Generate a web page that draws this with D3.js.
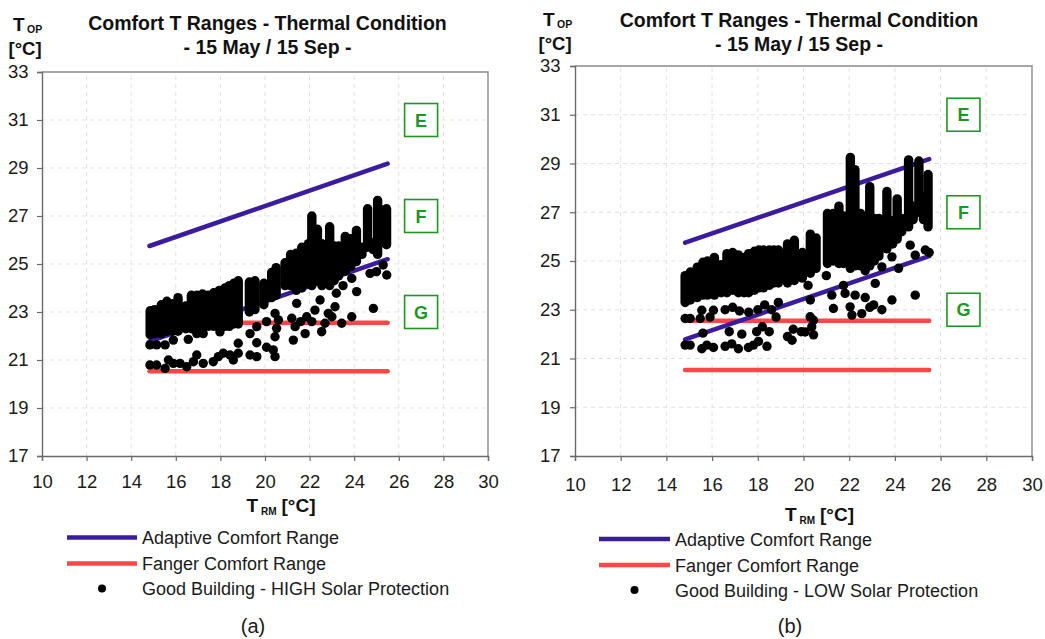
<!DOCTYPE html>
<html><head><meta charset="utf-8">
<script src="https://cdn.jsdelivr.net/npm/d3@7"></script>
<style>
html,body{margin:0;padding:0;background:#fff;}
svg{display:block;font-family:"Liberation Sans",Arial,sans-serif;}
</style></head>
<body>
<svg id="chart" width="1045" height="639"></svg>
<script>
// ---------- DATA ----------
const xTicks = [10,12,14,16,18,20,22,24,26,28,30];
const yTicks = [17,19,21,23,25,27,29,31,33];
const titleLines = ["Comfort T Ranges - Thermal Condition", "- 15 May / 15 Sep -"];
const zoneLabels = ["E","F","G"];
const zoneX = [27,27,27];
const zoneY = [31,27,23];
const adaptiveUpper = [[14.82,25.75],[25.5,29.18]];
const adaptiveLower = [[14.82,21.78],[25.5,25.2]];
const fangerUpper = [[14.82,22.55],[25.5,22.55]];
const fangerLower = [[14.82,20.53],[25.5,20.53]];
const legendLabels = ["Adaptive Comfort Range","Fanger Comfort Range"];
const seriesNameA = "Good Building - HIGH Solar Protection";
const seriesNameB = "Good Building - LOW Solar Protection";
const captions = ["(a)","(b)"];

// dense vertical runs of points: [T_RM, lowest T_OP, highest T_OP]
const colsA = [
 [14.85,22.05,23.05],[15.05,22.1,23.1],[15.35,22.1,23.3],[15.6,22.2,23.45],[15.85,22.2,23.35],
 [16.1,22.2,23.6],[16.45,22.3,23.25],[16.7,22.3,23.7],[16.95,22.3,23.7],[17.2,22.3,23.75],
 [17.45,22.4,23.7],[17.7,22.4,23.8],[17.95,22.4,23.9],[18.2,22.4,24.0],[18.4,22.4,24.1],
 [18.6,22.5,24.2],[18.8,22.5,24.3],[19.3,23.0,24.25],[19.55,23.1,24.3],[19.95,23.3,24.2],
 [20.3,23.6,24.65],[20.5,23.7,24.85],[20.9,24.1,25.05],[21.15,24.1,25.4],[21.4,23.9,25.45],
 [21.65,24.0,25.7],[21.95,24.2,25.85],[22.1,24.1,27.0],[22.35,24.3,26.45],[22.55,24.1,25.85],
 [22.9,24.1,26.55],[23.1,24.3,25.75],[23.3,24.5,25.75],[23.6,24.7,26.15],[23.85,24.9,26.05],
 [24.1,25.1,26.4],[24.35,25.4,25.7],[24.6,25.7,27.3],[24.85,25.6,25.9],[25.05,25.4,27.65],
 [25.25,25.9,27.25],[25.45,25.8,27.3]
];
const ptsA = [
 [14.84,20.79],[15.14,20.79],[15.52,20.65],[15.67,21.0],[15.89,20.86],[16.19,20.86],[16.49,20.72],
 [16.79,20.93],[16.94,21.21],[17.23,20.86],[17.68,20.93],[17.91,21.14],[18.13,21.28],[18.43,21.21],
 [18.58,21.0],[18.8,21.28],[19.33,21.21],[19.63,21.14],[20.07,21.53],[20.37,21.42],[20.45,21.14],
 [14.84,21.63],[15.14,21.63],[15.52,21.63],[15.89,21.83],[16.56,21.86],[16.94,22.1],[17.23,22.1],
 [17.98,22.17],[18.8,21.7],[19.33,22.1],[19.63,21.72],[19.63,22.39],[20.07,22.6],[20.45,22.94],
 [20.52,22.32],[20.45,21.97],[20.6,22.67],[21.2,22.74],[21.27,21.83],[21.35,22.39],[21.42,23.36],
 [21.6,22.6],[21.8,22.1],[21.87,22.8],[22.1,22.6],[22.24,23.08],[22.47,23.5],[22.54,22.18],
 [22.69,22.53],[22.84,22.94],[23.0,22.8],[23.14,23.22],[23.44,22.53],[23.89,22.8],[24.11,23.85],
 [23.89,24.4],[24.86,23.15],[24.71,24.61],[25.0,24.68],[25.3,24.96],[25.46,24.54],[23.5,24.1],[23.2,23.78]
];
const colsB = [
 [14.82,23.3,24.4],[15.05,23.4,24.55],[15.35,23.5,24.75],[15.6,23.6,24.95],[15.8,23.6,25.0],
 [16.1,23.6,25.15],[16.4,23.7,24.85],[16.65,23.7,25.3],[16.9,23.8,25.35],[17.15,23.7,25.25],
 [17.4,23.7,25.15],[17.6,23.7,25.3],[17.85,23.8,25.4],[18.05,23.9,25.45],[18.25,23.9,25.45],
 [18.5,24.0,25.45],[18.7,24.1,25.45],[18.9,24.1,25.45],[19.3,24.1,25.7],[19.6,24.2,25.85],
 [19.95,24.3,25.35],[20.3,24.5,26.1],[20.55,24.7,25.95],[21.05,24.9,26.95],[21.3,25.0,26.95],
 [21.55,24.9,27.25],[21.75,24.9,26.85],[22.05,24.7,29.25],[22.25,24.8,28.75],[22.5,24.8,26.95],
 [22.7,24.6,26.65],[22.9,24.8,28.05],[23.1,25.0,26.75],[23.3,25.2,26.75],[23.65,25.5,27.85],
 [23.9,25.7,26.65],[24.1,25.9,27.55],[24.3,26.2,26.75],[24.6,26.4,29.15],[24.8,26.7,27.25],
 [25.05,27.0,29.1],[25.25,26.7,27.65],[25.45,26.4,28.55]
];
const ptsB = [
 [14.82,22.64],[15.04,22.64],[15.48,22.64],[15.91,22.7],
 [15.55,22.98],[16.06,22.98],[16.57,23.0],[16.9,23.1],[17.2,22.95],[17.6,22.9],[18.0,23.0],
 [18.3,23.2],[18.6,23.0],[18.8,22.7],[18.9,23.3],
 [15.6,22.04],[16.75,22.1],[17.3,22.0],[17.95,22.1],[18.2,22.3],[18.5,22.1],[19.3,21.9],
 [19.55,22.2],[19.5,21.75],[19.9,22.1],
 [14.82,21.55],[15.04,21.55],[15.55,21.4],[15.77,21.55],[16.06,21.45],[16.57,21.5],[16.86,21.6],
 [17.15,21.4],[17.59,21.45],[17.81,21.55],[18.03,21.7],[18.4,21.5],
 [20.44,22.57],[20.36,22.3],[20.07,22.09],[20.44,21.97],[20.29,22.71],[21.24,23.6],[21.31,23.05],
 [21.82,23.67],[21.75,24.0],[22.04,23.12],[22.12,22.78],[22.55,22.84],[22.26,23.6],[22.7,23.5],
 [22.9,23.1],[23.07,23.2],[23.43,23.0],[23.87,23.4],[23.14,24.08],[23.43,24.76],[23.87,25.17],
 [24.16,24.7],[24.89,23.6],[24.67,25.65],[25.33,25.45],[24.89,25.24],[25.5,25.35],[20.2,24.0],
 [20.3,23.4],[21.0,24.4]
];

// ---------- STYLE ----------
const PURPLE = "#3b1c9c", RED = "#ff4646", GREEN = "#1e9622", R = 4.7;
const svg = d3.select("#chart");
svg.append("rect").attr("width",1045).attr("height",639).attr("fill","#fff");

function panel(cfg){
  const g = svg.append("g");
  const x = d3.scaleLinear().domain([10,30]).range(cfg.xr);
  const y = d3.scaleLinear().domain([17,33]).range(cfg.yr);
  // grid
  g.append("g").selectAll("line").data(xTicks.slice(1,-1)).join("line")
    .attr("x1",d=>x(d)).attr("x2",d=>x(d)).attr("y1",cfg.yr[0]).attr("y2",cfg.yr[1])
    .attr("stroke","#e2e2e2").attr("stroke-dasharray","4,4");
  g.append("g").selectAll("line").data(yTicks.slice(1,-1)).join("line")
    .attr("y1",d=>y(d)).attr("y2",d=>y(d)).attr("x1",cfg.xr[0]).attr("x2",cfg.xr[1])
    .attr("stroke","#e2e2e2").attr("stroke-dasharray","4,4");
  // frame
  g.append("path").attr("d",`M${cfg.xr[0]},${cfg.yr[1]}H${cfg.xr[1]}V${cfg.yr[0]}`)
    .attr("fill","none").attr("stroke","#8a8a8a").attr("stroke-width",1.4);
  // axes
  const ax = g.append("g").attr("transform",`translate(0,${cfg.yr[0]})`)
    .call(d3.axisBottom(x).tickValues(xTicks).tickSize(5).tickPadding(cfg.xPad).tickSizeOuter(5));
  const ay = g.append("g").attr("transform",`translate(${cfg.xr[0]},0)`)
    .call(d3.axisLeft(y).tickValues(yTicks).tickSize(5).tickPadding(cfg.yPad).tickSizeOuter(5));
  [ax,ay].forEach(a=>{
    a.select(".domain").attr("stroke","#6a6a6a").attr("stroke-width",1.4);
    a.selectAll(".tick line").attr("stroke","#6a6a6a").attr("stroke-width",1.2);
    a.selectAll("text").attr("font-size",18.5).attr("fill","#1a1a1a")
      .attr("font-family","'Liberation Sans',Arial,sans-serif");
  });
  // lines
  const line = d3.line().x(d=>x(d[0])).y(d=>y(d[1]));
  [[fangerLower,RED],[fangerUpper,RED],[adaptiveLower,PURPLE],[adaptiveUpper,PURPLE]].forEach(([d,c])=>{
    g.append("path").attr("d",line(d)).attr("stroke",c).attr("stroke-width",4.5)
      .attr("stroke-linecap","round").attr("fill","none");
  });
  // scatter: dense runs and single points
  g.append("g").selectAll("line").data(cfg.cols).join("line")
    .attr("x1",d=>x(d[0])).attr("x2",d=>x(d[0])).attr("y1",d=>y(d[1])).attr("y2",d=>y(d[2]))
    .attr("stroke","#000").attr("stroke-width",2*R).attr("stroke-linecap","round");
  g.append("g").selectAll("circle").data(cfg.pts).join("circle")
    .attr("cx",d=>x(d[0])).attr("cy",d=>y(d[1])).attr("r",R).attr("fill","#000");
  // zone boxes
  zoneLabels.forEach((lab,i)=>{
    const cx = x(zoneX[i]), cy = y(zoneY[i]);
    g.append("rect").attr("x",cx-16.5).attr("y",cy-16.5).attr("width",33).attr("height",33)
      .attr("fill","#fff").attr("stroke",GREEN).attr("stroke-width",1.6);
    g.append("text").attr("x",cx).attr("y",cy+6.5).attr("text-anchor","middle")
      .attr("font-size",18).attr("font-weight","bold").attr("fill",GREEN).text(lab);
  });
  // titles
  titleLines.forEach((t,i)=>{
    g.append("text").attr("x",cfg.titleX).attr("y",cfg.titleY[i]).attr("text-anchor","middle")
      .attr("font-size",19.5).attr("font-weight","bold").attr("fill","#111").text(t);
  });
  // y-axis title
  g.append("text").attr("x",cfg.yl[0]).attr("y",cfg.yl[1]).attr("font-size",19).attr("font-weight","bold").attr("fill","#111").text("T");
  g.append("text").attr("x",cfg.yl[0]+14).attr("y",cfg.yl[1]+2).attr("font-size",10.5).attr("font-weight","bold").attr("fill","#111").text("OP");
  g.append("text").attr("x",cfg.yl[0]-4.5).attr("y",cfg.yl[1]+24).attr("font-size",18.5).attr("font-weight","bold").attr("fill","#111").text("[°C]");
  // x-axis title
  g.append("text").attr("x",cfg.xl[0]).attr("y",cfg.xl[1]).attr("font-size",19).attr("font-weight","bold").attr("fill","#111").text("T");
  g.append("text").attr("x",cfg.xl[0]+14.5).attr("y",cfg.xl[1]+3).attr("font-size",10).attr("font-weight","bold").attr("fill","#111").text("RM");
  g.append("text").attr("x",cfg.xl[0]+35).attr("y",cfg.xl[1]).attr("font-size",19).attr("font-weight","bold").attr("fill","#111").text("[°C]");
  // legend
  const L = cfg.leg;
  [PURPLE,RED].forEach((c,i)=>{
    const yy = L.y + i*26;
    g.append("line").attr("x1",L.x0).attr("x2",L.x1).attr("y1",yy).attr("y2",yy)
      .attr("stroke",c).attr("stroke-width",4.5);
    g.append("text").attr("x",L.tx).attr("y",yy+6.5).attr("font-size",18).attr("fill","#1a1a1a").text(legendLabels[i]);
  });
  g.append("circle").attr("cx",(L.x0+L.x1)/2).attr("cy",L.y+51).attr("r",4).attr("fill","#000");
  g.append("text").attr("x",L.tx).attr("y",L.y+57.5).attr("font-size",18).attr("fill","#1a1a1a").text(cfg.name);
  // caption
  g.append("text").attr("x",cfg.cap[0]).attr("y",cfg.cap[1]).attr("text-anchor","middle")
    .attr("font-size",20).attr("fill","#1a1a1a").text(cfg.capText);
}

panel({xr:[42,488], yr:[456,72], xPad:14, yPad:8.5, cols:colsA, pts:ptsA,
  titleX:267.5, titleY:[30,54], yl:[13,31], xl:[246.5,511.5],
  leg:{x0:67,x1:137,y:537.5,tx:142}, name:seriesNameA, cap:[253,633], capText:captions[0]});
panel({xr:[575,1032], yr:[456,66], xPad:17, yPad:9.5, cols:colsB, pts:ptsB,
  titleX:799, titleY:[27,51], yl:[543,26], xl:[785,521],
  leg:{x0:599,x1:670,y:539,tx:675}, name:seriesNameB, cap:[790,633], capText:captions[1]});
</script>
</body></html>
